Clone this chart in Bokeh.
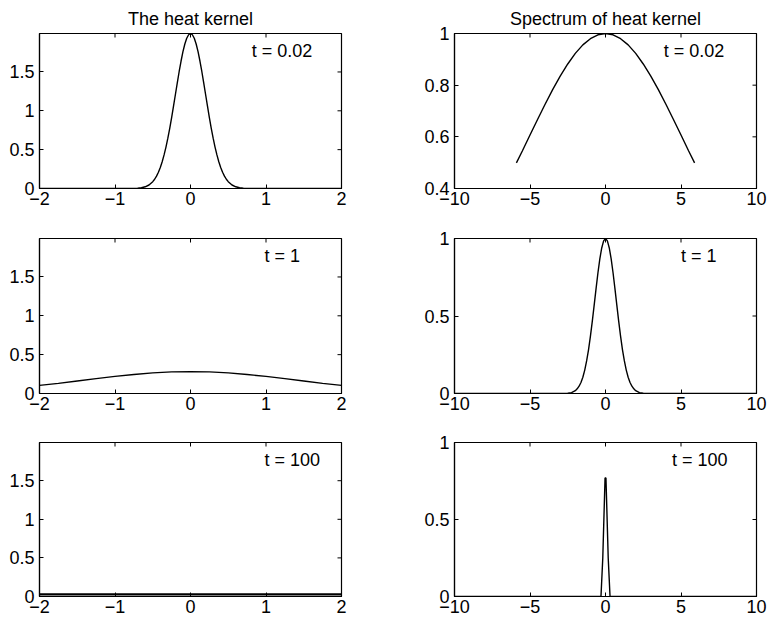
import math
from bokeh.plotting import figure
from bokeh.layouts import column, row
from bokeh.models import Label, FixedTicker, Range1d
from bokeh.embed import file_html
from bokeh.resources import INLINE

# ---------------- data ----------------
titles = ["The heat kernel", "Spectrum of heat kernel"]
t_labels = ["t = 0.02", "t = 1", "t = 100"]

# heat kernel, t = 0.02
k1_x = [-2.0, -1.0, -0.8, -0.7, -0.65, -0.6, -0.55, -0.5, -0.475, -0.45, -0.425, -0.4,
        -0.375, -0.35, -0.325, -0.3, -0.275, -0.25, -0.225, -0.2, -0.175, -0.15, -0.125,
        -0.1, -0.075, -0.05, -0.025, 0.0, 0.025, 0.05, 0.075, 0.1, 0.125, 0.15, 0.175,
        0.2, 0.225, 0.25, 0.275, 0.3, 0.325, 0.35, 0.375, 0.4, 0.425, 0.45, 0.475, 0.5,
        0.55, 0.6, 0.65, 0.7, 0.8, 1.0, 2.0]
k1_y = [0.0, 0.0, 0.001, 0.004, 0.010, 0.022, 0.045, 0.088, 0.119, 0.159, 0.209, 0.270,
        0.344, 0.432, 0.533, 0.648, 0.775, 0.913, 1.060, 1.210, 1.360, 1.506, 1.641,
        1.761, 1.860, 1.934, 1.979, 1.995, 1.979, 1.934, 1.860, 1.761, 1.641, 1.506, 1.360,
        1.210, 1.060, 0.913, 0.775, 0.648, 0.533, 0.432, 0.344, 0.270, 0.209, 0.159, 0.119, 0.088,
        0.045, 0.022, 0.010, 0.004, 0.001, 0.0, 0.0]

# heat kernel, t = 1
k2_x = [-2.0, -1.75, -1.5, -1.25, -1.0, -0.75, -0.5, -0.25, 0.0,
        0.25, 0.5, 0.75, 1.0, 1.25, 1.5, 1.75, 2.0]
k2_y = [0.104, 0.131, 0.161, 0.191, 0.220, 0.245, 0.265, 0.278, 0.282,
        0.278, 0.265, 0.245, 0.220, 0.191, 0.161, 0.131, 0.104]

# heat kernel, t = 100
k3_x = [-2.0, -1.0, 0.0, 1.0, 2.0]
k3_y = [0.0279, 0.0281, 0.0282, 0.0281, 0.0279]

# spectrum, t = 0.02
s1_x = [-5.9, -5.5, -5.0, -4.5, -4.0, -3.5, -3.0, -2.5, -2.0, -1.5, -1.0, -0.5, 0.0,
        0.5, 1.0, 1.5, 2.0, 2.5, 3.0, 3.5, 4.0, 4.5, 5.0, 5.5, 5.9]
s1_y = [0.499, 0.546, 0.607, 0.667, 0.726, 0.783, 0.835, 0.882, 0.923, 0.956, 0.980, 0.995, 1.000,
        0.995, 0.980, 0.956, 0.923, 0.882, 0.835, 0.783, 0.726, 0.667, 0.607, 0.546, 0.499]

# spectrum, t = 1
s2_x = [-10.0, -3.0, -2.5, -2.25, -2.0, -1.875, -1.75, -1.625, -1.5, -1.375, -1.25, -1.125,
        -1.0, -0.875, -0.75, -0.625, -0.5, -0.375, -0.25, -0.125, 0.0,
        0.125, 0.25, 0.375, 0.5, 0.625, 0.75, 0.875, 1.0, 1.125, 1.25, 1.375,
        1.5, 1.625, 1.75, 1.875, 2.0, 2.25, 2.5, 3.0, 10.0]
s2_y = [0.0, 0.0, 0.002, 0.006, 0.018, 0.030, 0.047, 0.071, 0.105, 0.151, 0.210, 0.282,
        0.368, 0.465, 0.570, 0.677, 0.779, 0.869, 0.939, 0.985, 1.000,
        0.985, 0.939, 0.869, 0.779, 0.677, 0.570, 0.465, 0.368, 0.282, 0.210, 0.151,
        0.105, 0.071, 0.047, 0.030, 0.018, 0.006, 0.002, 0.0, 0.0]

# spectrum, t = 100
s3_x = [-10.0, -0.3, -0.18, -0.03, 0.03, 0.18, 0.3, 10.0]
s3_y = [0.0, 0.0, 0.25, 0.77, 0.77, 0.25, 0.0, 0.0]

left_xticks = [-2, -1, 0, 1, 2]
left_xtick_labels = ["\u22122", "\u22121", "0", "1", "2"]
left_yticks = [0, 0.5, 1, 1.5]
left_ytick_labels = ["0", "0.5", "1", "1.5"]
right_xticks = [-10, -5, 0, 5, 10]
right_xtick_labels = ["\u221210", "\u22125", "0", "5", "10"]
right_yticks_top = [0.4, 0.6, 0.8, 1.0]
right_ytick_labels_top = ["0.4", "0.6", "0.8", "1"]
right_yticks = [0, 0.5, 1]
right_ytick_labels = ["0", "0.5", "1"]

FONT = "Liberation Sans"
FS = "18px"


def style_axis(ax, ticks, labels):
    ax.ticker = FixedTicker(ticks=ticks)
    ax.major_tick_in = 4
    ax.major_tick_out = 0
    ax.minor_tick_line_color = None
    ax.axis_line_color = "black"
    ax.axis_line_width = 1.2
    ax.major_tick_line_color = "black"
    ax.major_tick_line_width = 1
    ax.major_label_overrides = {float(t): l for t, l in zip(ticks, labels)}
    ax.major_label_text_font = FONT
    ax.major_label_text_font_size = FS
    ax.major_label_text_color = "black"


def panel(xs, ys, xr, yr, xt, xtl, yt, ytl, fh, bl, br, bt, bb, label, lx, ly,
          title=None, lw=1.4):
    p = figure(frame_width=302, frame_height=fh,
               x_range=Range1d(*xr), y_range=Range1d(*yr),
               output_backend="svg", toolbar_location=None,
               min_border_left=bl, min_border_right=br,
               min_border_top=bt, min_border_bottom=bb,
               background_fill_color="white", border_fill_color="white")
    p.xgrid.visible = False
    p.ygrid.visible = False
    p.outline_line_color = "black"
    p.outline_line_width = 1.2
    style_axis(p.xaxis[0], xt, xtl)
    p.xaxis[0].major_label_standoff = 3
    style_axis(p.yaxis[0], yt, ytl)
    p.yaxis[0].major_label_standoff = 5
    # mirrored inward ticks on the top and right edges of the box
    p.scatter(xt, [yr[1]] * len(xt), marker="dash", size=8, angle=math.pi / 2,
              line_color="black", line_width=1)
    p.scatter([xr[1]] * len(yt), yt, marker="dash", size=8,
              line_color="black", line_width=1)
    p.line(xs, ys, line_color="black", line_width=lw)
    p.add_layout(Label(x=lx, y=ly, text=label, text_font=FONT, text_font_size=FS,
                       text_baseline="top", text_align="left", text_color="black"))
    if title is not None:
        p.title.text = title
        p.title.align = "center"
        p.title.text_font = FONT
        p.title.text_font_size = FS
        p.title.text_font_style = "normal"
        p.title.text_color = "black"
        p.title.standoff = 10
    return p


ltop = 1.995
p1 = panel(k1_x, k1_y, (-2, 2), (0, ltop), left_xticks, left_xtick_labels,
           left_yticks, left_ytick_labels, 155, 39, 43, 33, 27, t_labels[0], 0.81, 1.9,
           title=titles[0])
p2 = panel(s1_x, s1_y, (-10, 10), (0.4, 1.0), right_xticks, right_xtick_labels,
           right_yticks_top, right_ytick_labels_top, 155, 70, 12, 33, 27, t_labels[0], 3.85, 0.972,
           title=titles[1])
p3 = panel(k2_x, k2_y, (-2, 2), (0, ltop), left_xticks, left_xtick_labels,
           left_yticks, left_ytick_labels, 155, 39, 43, 23, 27, t_labels[1], 0.98, 1.9)
p4 = panel(s2_x, s2_y, (-10, 10), (0, 1), right_xticks, right_xtick_labels,
           right_yticks, right_ytick_labels, 155, 70, 12, 23, 27, t_labels[1], 5.0, 0.953)
p5 = panel(k3_x, k3_y, (-2, 2), (0, ltop), left_xticks, left_xtick_labels,
           left_yticks, left_ytick_labels, 154, 39, 43, 22, 32, t_labels[2], 0.98, 1.9, lw=2.2)
p6 = panel(s3_x, s3_y, (-10, 10), (0, 1), right_xticks, right_xtick_labels,
           right_yticks, right_ytick_labels, 154, 70, 12, 22, 32, t_labels[2], 4.4, 0.953)

layout = column(row(p1, p2, spacing=0), row(p3, p4, spacing=0), row(p5, p6, spacing=0),
                spacing=0)

open("out.html", "w").write(file_html(layout, INLINE))
